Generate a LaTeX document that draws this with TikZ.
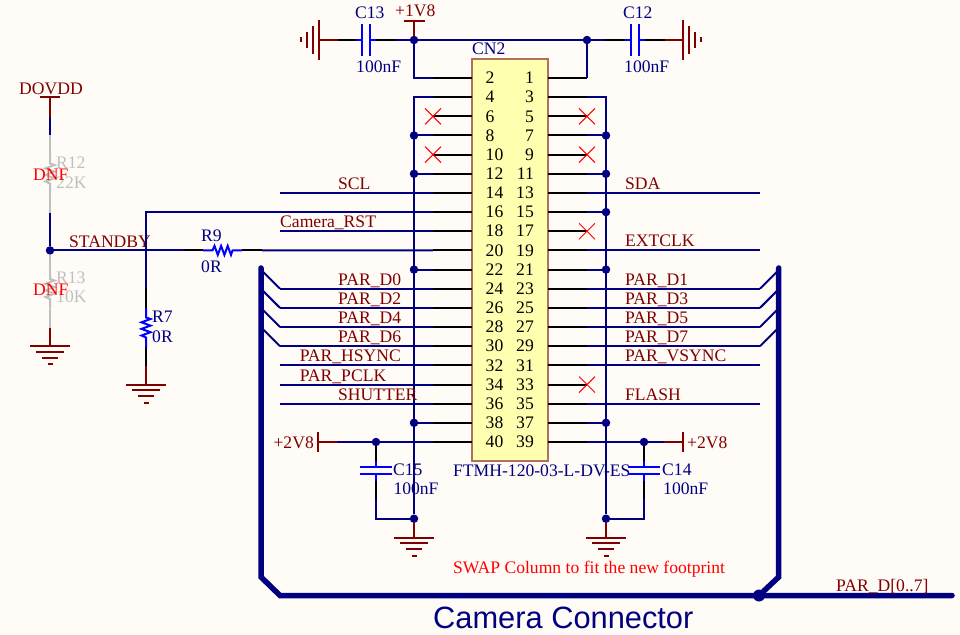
\documentclass[tikz,border=0pt]{standalone}
\usepackage{fontspec}
\setmainfont{Liberation Serif}
\newfontfamily\titlefont{Liberation Sans}
\usetikzlibrary{calc}
\definecolor{papercol}{HTML}{FFFCF8}
\definecolor{wirecol}{HTML}{000080}
\definecolor{partcol}{HTML}{0000FF}
\definecolor{brickcol}{HTML}{800000}
\definecolor{ghostcol}{HTML}{C0C0C0}
\definecolor{bodycol}{HTML}{FFFFB0}
\definecolor{edgecol}{HTML}{B0705A}
\newcommand{\labelsize}{\fontsize{17.6}{18}\selectfont}
\newcommand{\pinstart}{78}
\newcommand{\pinpitch}{19.158}
\newcommand{\labelrise}{-3.5}
\tikzset{
  wire/.style={draw=wirecol,line width=2pt},
  lead/.style={draw=black,line width=2pt},
  rail/.style={draw=brickcol,line width=2pt},
  part/.style={draw=partcol,line width=2pt},
  ghost/.style={draw=ghostcol,line width=2pt},
  bus/.style={draw=wirecol,line width=5.5pt},
  junc/.style={circle,fill=wirecol,inner sep=0pt,minimum size=8.5pt},
  netlab/.style={anchor=base west,inner sep=0pt,font=\labelsize,text=brickcol},
  partlab/.style={anchor=base west,inner sep=0pt,font=\labelsize,text=wirecol},
  ghostlab/.style={anchor=base west,inner sep=0pt,font=\labelsize,text=ghostcol},
  redlab/.style={anchor=base west,inner sep=0pt,font=\labelsize,text=red},
  resbody/.pic={
    \draw[line width=2pt] (-19.5,0) -- (-10,0) -- (-8,-4.5) -- (-4.7,4.5) -- (-1.4,-4.5)
      -- (1.9,4.5) -- (5.2,-4.5) -- (8.5,4.5) -- (10,0) -- (19.5,0);
  },
  capbody/.pic={
    \draw[part] (-16,-3.7) -- (16,-3.7);
    \draw[part] (-16,3.7) -- (16,3.7);
    \draw[part] (0,-10) -- (0,-3.7);
    \draw[part] (0,3.7) -- (0,10);
  },
  gndbody/.pic={
    \draw[rail] (-20,0) -- (20,0);
    \draw[rail] (-14,5.7) -- (14,5.7);
    \draw[rail] (-8,11.7) -- (8,11.7);
    \draw[rail] (-2.5,18) -- (2.5,18);
  },
  nocross/.pic={
    \draw[red,line width=1pt] (-8,-8) -- (8,8);
    \draw[red,line width=1pt] (-8,8) -- (8,-8);
  },
}
\begin{document}
\begin{tikzpicture}[x=1pt,y=-1pt]
    \useasboundingbox (0,0) rectangle (960,634);
    \fill[papercol] (0,0) rectangle (960,634);
    % columns
    \coordinate (lbus) at (414,0);
    \coordinate (rbus) at (606,0);
    \coordinate (lend) at (280,0);
    \coordinate (rend) at (760,0);
    \coordinate (llab) at (338,0);
    \coordinate (rlab) at (625,0);
    % connector body
    \node[draw=edgecol,fill=bodycol,line width=1.5pt,minimum width=76pt,minimum height=402pt,
      inner sep=0pt] (cn2) at (510,260) {};
    \node[partlab] (cn2name) at (472,54.3) {CN2};
    \node[partlab] (cn2part) at (453,476.7) {FTMH-120-03-L-DV-ES};
    % pins
    \foreach \row in {1,...,20} {
      \pgfmathsetmacro{\piny}{\pinstart+\pinpitch*(\row-1)}
      \pgfmathtruncatemacro{\nl}{2*\row}
      \pgfmathtruncatemacro{\nr}{2*\row-1}
      \coordinate (pl\nl) at (472,\piny);
      \coordinate (il\nl) at (433,\piny);
      \coordinate (pr\nr) at (548,\piny);
      \coordinate (ir\nr) at (587,\piny);
      \draw[lead] (pl\nl) -- (il\nl);
      \draw[lead] (pr\nr) -- (ir\nr);
      \node[anchor=base west,inner sep=0pt,font=\labelsize] (num\nl) at (485.5,\piny+5.7) {\nl};
      \node[anchor=base east,inner sep=0pt,font=\labelsize] (num\nr) at (534,\piny+5.7) {\nr};
    }
    % unused pins
    \foreach \n in {6,10} {
      \pic at (il\n) {nocross};
    }
    \foreach \n in {5,9,17,33} {
      \pic at (ir\n) {nocross};
    }
    % ground buses
    \node[junc] (jgl) at (414,518.7) {};
    \node[junc] (jgr) at (606,518.7) {};
    \coordinate (cl4) at (il4 -| lbus);
    \coordinate (cr3) at (ir3 -| rbus);
    \draw[wire] (il4) -- (cl4) -- (jgl);
    \draw[wire] (ir3) -- (cr3) -- (jgr);
    \foreach \n in {8,12,22,38} {
      \node[junc] (jl\n) at (il\n -| lbus) {};
      \draw[wire] (il\n) -- (jl\n);
    }
    \foreach \n in {7,11,15,21,37} {
      \node[junc] (jr\n) at (ir\n -| rbus) {};
      \draw[wire] (ir\n) -- (jr\n);
    }
    \coordinate (gl) at (414,537.7);
    \coordinate (gr) at (606,537.7);
    \draw[rail] (jgl) -- (gl);
    \draw[rail] (jgr) -- (gr);
    \pic at (gl) {gndbody};
    \pic at (gr) {gndbody};
    % top rail
    \node[junc] (jtl) at (414,40) {};
    \node[junc] (jtr) at (587,40) {};
    \draw[wire] (jtl) -- (jtr);
    \draw[wire] (il2) -| (jtl);
    \draw[wire] (ir1) -| (jtr);
    \coordinate (vtop) at (414,21);
    \draw[rail] (jtl) -- (vtop);
    \draw[rail] (404,21) -- (425,21);
    \node[netlab] (v18) at (395,17) {+1V8};
    % c13
    \coordinate (c13a) at (396,40);
    \coordinate (c13b) at (376,40);
    \coordinate (c13c) at (356,40);
    \coordinate (c13d) at (338,40);
    \coordinate (c13e) at (319,40);
    \draw[wire] (jtl) -- (c13a);
    \draw[lead] (c13a) -- (c13b);
    \draw[lead] (c13c) -- (c13d);
    \draw[rail] (c13d) -- (c13e);
    \pic[rotate=90] at (366,40) {capbody};
    \pic[rotate=-90] at (c13e) {gndbody};
    \node[partlab] (c13name) at (355,18.7) {C13};
    \node[partlab] (c13val) at (356,72.7) {100nF};
    % c12
    \coordinate (c12a) at (605,40);
    \coordinate (c12b) at (625,40);
    \coordinate (c12c) at (645,40);
    \coordinate (c12d) at (665,40);
    \coordinate (c12e) at (683,40);
    \draw[wire] (jtr) -- (c12a);
    \draw[lead] (c12a) -- (c12b);
    \draw[lead] (c12c) -- (c12d);
    \draw[rail] (c12d) -- (c12e);
    \pic[rotate=90] at (635,40) {capbody};
    \pic[rotate=90] at (c12e) {gndbody};
    \node[partlab] (c12name) at (623,18.7) {C12};
    \node[partlab] (c12val) at (624,72.7) {100nF};
    % signal wires, left
    \foreach \n in {14,18,24,26,28,30,32,34,36} {
      \coordinate (wl\n) at (il\n -| lend);
      \draw[wire] (il\n) -- (wl\n);
    }
    \foreach \n/\t in {14/SCL,24/PAR\_D0,26/PAR\_D2,28/PAR\_D4,30/PAR\_D6,36/SHUTTER} {
      \node[netlab] (lab\n) at ($(il\n -| llab)+(0,\labelrise)$) {\t};
    }
    \node[netlab] (lab18) at ($(wl18)+(0,\labelrise)$) {Camera\_RST};
    \node[netlab] (lab32) at ($(wl32)+(19.6,\labelrise)$) {PAR\_HSYNC};
    \node[netlab] (lab34) at ($(wl34)+(19.6,\labelrise)$) {PAR\_PCLK};
    % signal wires, right
    \foreach \n in {13,19,23,25,27,29,31,35} {
      \coordinate (wr\n) at (ir\n -| rend);
      \draw[wire] (ir\n) -- (wr\n);
    }
    \foreach \n/\t in {13/SDA,19/EXTCLK,23/PAR\_D1,25/PAR\_D3,27/PAR\_D5,29/PAR\_D7,31/PAR\_VSYNC,35/FLASH} {
      \node[netlab] (lab\n) at ($(ir\n -| rlab)+(0,\labelrise)$) {\t};
    }
    % data bus
    \node[junc,minimum size=12pt] (jbus) at (759,595.5) {};
    \coordinate (bltop) at (261,268);
    \coordinate (blbot) at (261,577);
    \coordinate (blend) at (280,595.5);
    \coordinate (brtop) at (778.7,268);
    \coordinate (brbot) at (778.7,577);
    \coordinate (bend) at (952,595.5);
    \draw[bus,line cap=round] (bltop) -- (blbot) -- (blend) -- (bend);
    \draw[bus,line cap=round] (brtop) -- (brbot) -- (jbus);
    \foreach \n in {24,26,28,30} {
      \draw[wire] (wl\n) -- ++(-19,-19);
    }
    \foreach \n in {23,25,27,29} {
      \draw[wire] (wr\n) -- ++(18,-18);
    }
    \node[netlab] (parbus) at (836,591.7) {PAR\_D[0..7]};
    % standby
    \node[junc] (jstby) at (50,250.4) {};
    \coordinate (r9a) at (262,250.4);
    \coordinate (r9b) at (242,250.4);
    \coordinate (r9c) at (203,250.4);
    \coordinate (r9d) at (184,250.4);
    \draw[wire] (il20) -- (r9a);
    \draw[lead] (r9a) -- (r9b);
    \draw[lead] (r9c) -- (r9d);
    \draw[wire] (r9d) -- (jstby);
    \pic[color=partcol] at (222.5,250.4) {resbody};
    \node[netlab] (stby) at (69,247.3) {STANDBY};
    \node[partlab] (r9name) at (201,241.7) {R9};
    \node[partlab] (r9val) at (201,272) {0R};
    % r7
    \coordinate (r7a) at (146,288);
    \coordinate (r7b) at (146,308);
    \coordinate (r7c) at (146,347);
    \coordinate (r7d) at (146,366);
    \coordinate (r7e) at (146,384.7);
    \draw[wire] (il16) -| (r7a);
    \draw[lead] (r7a) -- (r7b);
    \draw[lead] (r7c) -- (r7d);
    \draw[rail] (r7d) -- (r7e);
    \pic[rotate=90,color=partcol] at (146,327.5) {resbody};
    \pic at (r7e) {gndbody};
    \node[partlab] (r7name) at (152,322) {R7};
    \node[partlab] (r7val) at (152,342) {0R};
    % dovdd divider
    \coordinate (dva) at (50,97);
    \coordinate (dvb) at (50,117);
    \coordinate (dvc) at (50,135);
    \coordinate (dvd) at (50,154);
    \coordinate (dve) at (50,193);
    \coordinate (dvf) at (50,213);
    \coordinate (dvg) at (50,269.5);
    \coordinate (dvh) at (50,308.5);
    \coordinate (dvi) at (50,328);
    \coordinate (dvj) at (50,346);
    \draw[rail] (dva) -- (dvb);
    \draw[rail] (40,97) -- (60,97);
    \draw[wire] (dvb) -- (dvc);
    \draw[ghost] (dvc) -- (dvd);
    \draw[ghost] (dve) -- (dvf);
    \draw[wire] (dvf) -- (jstby);
    \draw[ghost] (jstby) -- (dvg);
    \draw[ghost] (dvh) -- (dvi);
    \draw[rail] (dvi) -- (dvj);
    \pic[rotate=90,color=ghostcol] at (50,173.5) {resbody};
    \pic[rotate=90,color=ghostcol] at (50,289) {resbody};
    \pic at (dvj) {gndbody};
    \node[netlab] (dovdd) at (19,94) {DOVDD};
    \node[ghostlab] (r12name) at (56,168) {R12};
    \node[ghostlab] (r12val) at (56,188) {22K};
    \node[ghostlab] (r13name) at (56,283) {R13};
    \node[ghostlab] (r13val) at (56,302) {10K};
    \node[redlab] (dnfa) at (33,180.7) {DNF};
    \node[redlab] (dnfb) at (33,295.7) {DNF};
    % c15
    \node[junc] (jc15) at (il40 -| 376,0) {};
    \coordinate (c15a) at (376,461);
    \coordinate (c15b) at (376,481);
    \coordinate (c15c) at (376,499);
    \coordinate (c15d) at (376,518.7);
    \coordinate (vl) at (il40 -| 337,0);
    \coordinate (vlbar) at (il40 -| 318,0);
    \draw[wire] (il40) -- (vl);
    \draw[rail] (vl) -- (vlbar);
    \draw[rail] (318,432) -- (318,452);
    \draw[lead] (jc15) -- (c15a);
    \draw[lead] (c15b) -- (c15c);
    \draw[wire] (c15c) -- (c15d) -- (jgl);
    \pic at (376,470.5) {capbody};
    \node[netlab,anchor=base east] (v28l) at (314,448) {+2V8};
    \node[partlab] (c15name) at (393,475) {C15};
    \node[partlab] (c15val) at (393.3,494) {100nF};
    % c14
    \node[junc] (jc14) at (ir39 -| 644,0) {};
    \coordinate (c14a) at (644,461);
    \coordinate (c14b) at (644,481);
    \coordinate (c14c) at (644,499);
    \coordinate (c14d) at (644,518.7);
    \coordinate (vr) at (ir39 -| 664,0);
    \coordinate (vrbar) at (ir39 -| 683,0);
    \draw[wire] (ir39) -- (vr);
    \draw[rail] (vr) -- (vrbar);
    \draw[rail] (683,432) -- (683,452);
    \draw[lead] (jc14) -- (c14a);
    \draw[lead] (c14b) -- (c14c);
    \draw[wire] (c14c) -- (c14d) -- (jgr);
    \pic at (644,470.5) {capbody};
    \node[netlab] (v28r) at (687,448) {+2V8};
    \node[partlab] (c14name) at (662,475) {C14};
    \node[partlab] (c14val) at (663,494) {100nF};
    % notes
    \node[redlab] (swapnote) at (453,573) {SWAP Column to fit the new footprint};
    \node[anchor=base west,inner sep=0pt,font=\titlefont\fontsize{30.8}{31}\selectfont,text=wirecol]
      (sheettitle) at (433,628) {Camera Connector};
  \end{tikzpicture}
\end{document}
